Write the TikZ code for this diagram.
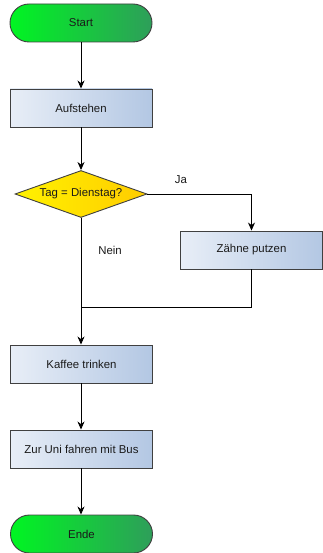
\documentclass[tikz,border=0pt]{standalone}
\usepackage{fontspec}
\setmainfont{Liberation Sans}
\usetikzlibrary{shapes.geometric,arrows.meta}
\definecolor{bord}{HTML}{404040}
\definecolor{txt}{HTML}{1A1A1A}
\definecolor{gL}{HTML}{00F522}
\definecolor{gR}{HTML}{2E9E5A}
\definecolor{yL}{HTML}{FFF200}
\definecolor{yR}{HTML}{FFCC00}
\definecolor{bL}{HTML}{E8EEF7}
\definecolor{bR}{HTML}{B3C7E3}
\tikzset{
  base/.style={draw=bord, line width=0.9pt, text=txt, font=\fontsize{11.4}{13}\selectfont, inner sep=0pt},
  term/.style={base, rounded corners=19pt, minimum width=142pt, minimum height=38pt, left color=gL, right color=gR},
  proc/.style={base, minimum width=142pt, minimum height=38pt, left color=bL, right color=bR},
  decide/.style={base, shape=diamond, aspect=2.8, minimum width=132pt, minimum height=47pt, left color=yL, right color=yR},
  conn/.style={draw=black, line width=0.9pt},
  arr/.style={conn, -{Stealth[length=8pt,width=7pt,inset=2.5pt]}},
  lbl/.style={text=txt, font=\fontsize{11.4}{13}\selectfont, inner sep=0pt}
}
\begin{document}
\begin{tikzpicture}[x=1pt,y=-1pt]
\useasboundingbox (0,0) rectangle (323,553);
\node[term] (start) at (81,23) {Start};
\node[proc] (auf) at (81,108) {Aufstehen};
\node[decide] (dia) at (81,194) {Tag = Dienstag?};
\node[proc] (zahn) at (251.5,250) {Zähne putzen};
\node[proc] (kaffee) at (81.5,364) {Kaffee trinken};
\node[proc] (uni) at (81.5,449) {Zur Uni fahren mit Bus};
\node[term] (ende) at (81.5,534) {Ende};
\coordinate (join) at (81,307);
\node[lbl] (ja) at (181,180) {Ja};
\node[lbl] (nein) at (110,250) {Nein};
\draw[arr] (start.south) -- (auf.north);
\draw[arr] (auf.south) -- (dia.north);
\draw[arr] (dia.east) -| (zahn.north);
\draw[conn] (dia.south) -- (join);
\draw[conn] (zahn.south) |- (join);
\draw[arr] (join) -- (kaffee.north -| join);
\draw[arr] (kaffee.south -| join) -- (uni.north -| join);
\draw[arr] (uni.south -| join) -- (ende.north -| join);
\end{tikzpicture}
\end{document}
